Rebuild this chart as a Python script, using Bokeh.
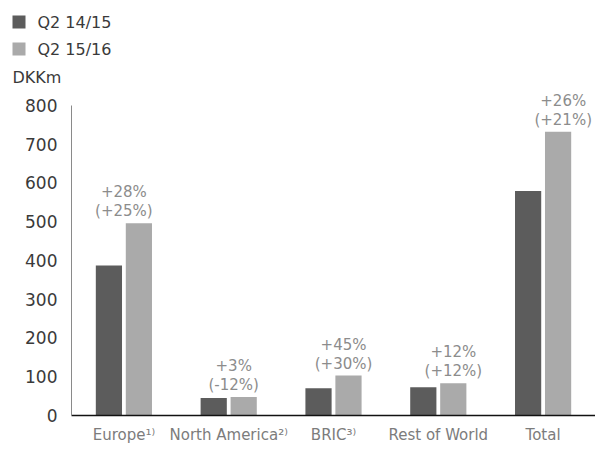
from bokeh.plotting import figure
from bokeh.layouts import column
from bokeh.models import (ColumnDataSource, FactorRange, Range1d, FixedTicker, LabelSet)
from bokeh.transform import dodge
from bokeh.core.properties import value
from bokeh.embed import file_html
from bokeh.resources import INLINE

# ---- data ----
categories = ["Europe\u00b9\u207e", "North America\u00b2\u207e", "BRIC\u00b3\u207e",
              "Rest of World", "Total"]
q2_1415 = [387, 45, 70, 73, 579]
q2_1516 = [496, 48, 103, 83, 732]
growth_reported = ["+28%", "+3%", "+45%", "+12%", "+26%"]
growth_local = ["(+25%)", "(-12%)", "(+30%)", "(+12%)", "(+21%)"]
y_ticks = [0, 100, 200, 300, 400, 500, 600, 700, 800]
series_names = ["Q2 14/15", "Q2 15/16"]
unit = "DKKm"

FONT = "DejaVu Sans"
DARK = "#5c5c5c"
LIGHT = "#aaaaaa"
W = 595
HEAD_H = 89

# ---------- header: legend keys + unit (pixel-mapped ranges) ----------
head = figure(width=W, height=HEAD_H, x_range=Range1d(0, W), y_range=Range1d(HEAD_H, 0),
              x_axis_type=None, y_axis_type=None, output_backend="svg",
              toolbar_location=None, min_border=0)
head.frame_align = False
head.outline_line_color = None
head.grid.visible = False
key_rows = [21.5 + 27 * i for i in range(len(series_names))]
keys = ColumnDataSource(dict(y=key_rows, name=series_names, color=[DARK, LIGHT]))
head.rect(x=18.5, y="y", width=13, height=13, source=keys, fill_color="color",
          line_color=None)
head.text(x=37, y="y", text="name", source=keys, text_baseline="middle",
          text_font=value(FONT), text_font_size="16px", text_color="#3a3a3a")
head.text(x=[12], y=[77], text=[unit], text_baseline="middle",
          text_font=value(FONT), text_font_size="16px", text_color="#3a3a3a")

# ---------- main chart ----------
src = ColumnDataSource(dict(cat=categories, a=q2_1415, b=q2_1516))

p = figure(width=W, height=446 - HEAD_H,
           x_range=FactorRange(factors=categories, range_padding=0),
           y_range=Range1d(0, 841), output_backend="svg", toolbar_location=None,
           min_border_left=71, min_border_right=0, min_border_top=0, min_border_bottom=29)
p.frame_align = False
p.outline_line_color = None
p.grid.visible = False

p.vbar(x=dodge("cat", -0.143, range=p.x_range), top="a", width=0.25, source=src,
       fill_color=DARK, line_color=None)
p.vbar(x=dodge("cat", 0.143, range=p.x_range), top="b", width=0.25, source=src,
       fill_color=LIGHT, line_color=None)

xs = [i + 0.5 + 0.048 * i for i in range(len(categories))]
ann = ColumnDataSource(dict(x=xs, y=q2_1516, t1=growth_reported, t2=growth_local))
for col, off in (("t2", 12), ("t1", 31)):
    p.add_layout(LabelSet(x="x", y="y", text=col, source=ann, y_offset=off,
                          text_align="center", text_baseline="middle",
                          text_font=value(FONT), text_font_size=value("15px"),
                          text_color="#8c8c8c"))

p.yaxis.ticker = FixedTicker(ticks=y_ticks)
p.yaxis.bounds = (0, 800)
p.yaxis.major_tick_line_color = None
p.yaxis.minor_tick_line_color = None
p.yaxis.axis_line_color = "#8a8a8a"
p.yaxis.major_label_standoff = 8
p.yaxis.major_label_text_font = FONT
p.yaxis.major_label_text_font_size = "17px"
p.yaxis.major_label_text_color = "#3a3a3a"

p.xaxis.major_tick_line_color = None
p.xaxis.minor_tick_line_color = None
p.xaxis.axis_line_color = "#111111"
p.xaxis.axis_line_width = 1.5
p.xaxis.major_label_standoff = 4
p.xaxis.major_label_text_font = FONT
p.xaxis.major_label_text_font_size = "15px"
p.xaxis.major_label_text_color = "#7c7c7c"

open("out.html", "w").write(file_html(column(head, p), INLINE))
